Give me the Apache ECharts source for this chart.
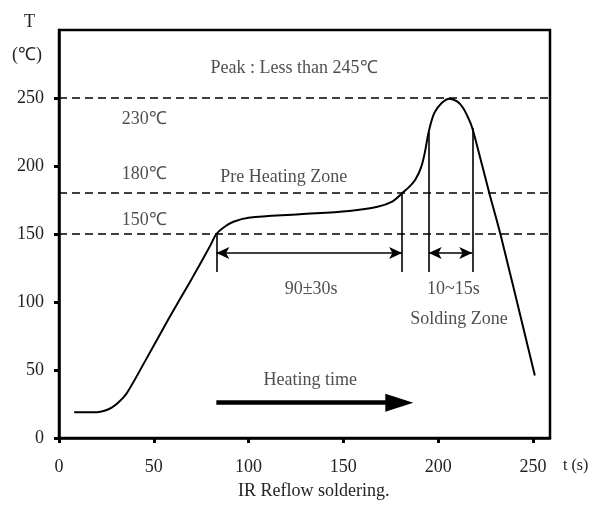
<!DOCTYPE html>
<html><head><meta charset="utf-8">
<script src="https://cdn.jsdelivr.net/npm/echarts@6/dist/echarts.min.js"></script>
<style>html,body{margin:0;padding:0;background:#fff}#c{width:604px;height:522px}</style>
</head><body><div id="c"></div>
<script>
// ---- data ----
const xTicks = [0, 50, 100, 150, 200, 250];
const yTicks = [0, 50, 100, 150, 200, 250];
const profileTime = [8, 20, 24, 28, 32, 36, 46, 58, 70, 80, 83, 87, 92, 100, 127, 153, 168, 176, 181, 185, 188, 191, 193, 195, 198, 202, 206, 210, 213, 216, 218, 222, 227, 233, 251];
const profileTemp = [19, 19, 20, 22.5, 27, 33.5, 58, 88, 117, 142, 150, 155, 159, 162, 164.5, 167, 170, 174, 180, 185, 190, 199, 210, 225, 239, 246.5, 249.5, 247.5, 243, 235, 228, 207, 180, 149, 46];
const refLevels = [250, 180, 150];
const zoneTimes = [83, 181, 195, 218];
const zoneTops = [150, 180, 225, 228];
const zoneBottom = 122;
const spanArrowLevel = 136;
const spanPairs = [[83, 181], [195, 218]];
const heatingArrow = [[83, 26], [179.5, 26]];
const annotationTexts = ['Peak : Less than 245℃', '230℃', '180℃', 'Pre Heating Zone', '150℃', '90±30s', '10~15s', 'Solding Zone', 'Heating time'];
const annotationTime = [124, 45, 45, 118.5, 45, 133, 208, 211, 132.5];
const annotationTemp = [272, 234, 194, 192, 160, 109, 109, 87, 42.5];

const FONT = 'Liberation Serif';
const TXT = '#222';

const chart = echarts.init(document.getElementById('c'), null, {renderer: 'canvas'});

const vertLines = zoneTimes.map((t, i) => [{coord: [t, zoneTops[i]]}, {coord: [t, zoneBottom]}]);
const spanLines = spanPairs.map(p => [{coord: [p[0], spanArrowLevel]}, {coord: [p[1], spanArrowLevel]}]);

chart.setOption({
  animation: false,
  backgroundColor: '#fff',
  grid: {left: 59, right: 54, top: 30, bottom: 84, show: true, borderColor: '#000', borderWidth: 2.5, backgroundColor: 'transparent'},
  xAxis: {
    type: 'value', min: 0, max: 259, interval: 50,
    splitLine: {show: false},
    axisLine: {lineStyle: {color: '#000', width: 2.5}},
    axisTick: {show: true, length: 5, customValues: xTicks, lineStyle: {color: '#000', width: 3}},
    axisLabel: {customValues: xTicks, margin: 20, fontFamily: FONT, fontSize: 18, color: TXT}
  },
  yAxis: {
    type: 'value', min: 0, max: 300, interval: 50,
    splitLine: {show: false},
    axisLine: {lineStyle: {color: '#000', width: 2.5}},
    axisTick: {show: true, length: 5, customValues: yTicks, lineStyle: {color: '#000', width: 3}},
    axisLabel: {customValues: yTicks, margin: 15, fontFamily: FONT, fontSize: 18, color: TXT}
  },
  graphic: [
    {type: 'text', left: 24, top: 13, style: {text: 'T', font: '18px "Liberation Serif"', fill: TXT}},
    {type: 'text', left: 12, top: 46, style: {text: '(℃)', font: '18px "Liberation Serif"', fill: TXT}},
    {type: 'text', left: 563, top: 458, style: {text: 't (s)', font: '16px "Liberation Serif"', fill: TXT}},
    {type: 'text', left: 238, top: 482, style: {text: 'IR Reflow soldering.', font: '18px "Liberation Serif"', fill: TXT}}
  ],
  series: [
    {
      type: 'line', data: profileTime.map((t, i) => [t, profileTemp[i]]),
      smooth: 0.35, symbol: 'none',
      lineStyle: {color: '#000', width: 2}, z: 5,
      markLine: {
        silent: true, symbol: ['none', 'none'], label: {show: false},
        lineStyle: {color: '#000', width: 1.6, type: [8, 5]},
        data: refLevels.map(v => ({yAxis: v}))
      }
    },
    {
      type: 'line', data: [], symbol: 'none',
      markLine: {
        silent: true, symbol: ['none', 'none'], label: {show: false},
        lineStyle: {color: '#000', width: 1.6, type: 'solid'},
        data: vertLines
      }
    },
    {
      type: 'line', data: [], symbol: 'none',
      markLine: {
        silent: true, symbol: ['arrow', 'arrow'], symbolSize: [9, 13], label: {show: false},
        lineStyle: {color: '#000', width: 1.6, type: 'solid'},
        data: spanLines
      }
    },
    {
      type: 'line', data: [], symbol: 'none',
      markLine: {
        silent: true, symbol: ['none', 'triangle'], symbolSize: [18, 28], label: {show: false},
        lineStyle: {color: '#000', width: 4.5, type: 'solid'},
        data: [[{coord: heatingArrow[0]}, {coord: heatingArrow[1]}]]
      }
    },
    {
      type: 'scatter', symbolSize: 0,
      data: annotationTexts.map((s, i) => ({name: s, value: [annotationTime[i], annotationTemp[i]]})),
      label: {show: true, position: 'inside', formatter: '{b}', fontFamily: FONT, fontSize: 18, color: TXT},
      z: 6
    }
  ]
});
</script>
</body></html>
